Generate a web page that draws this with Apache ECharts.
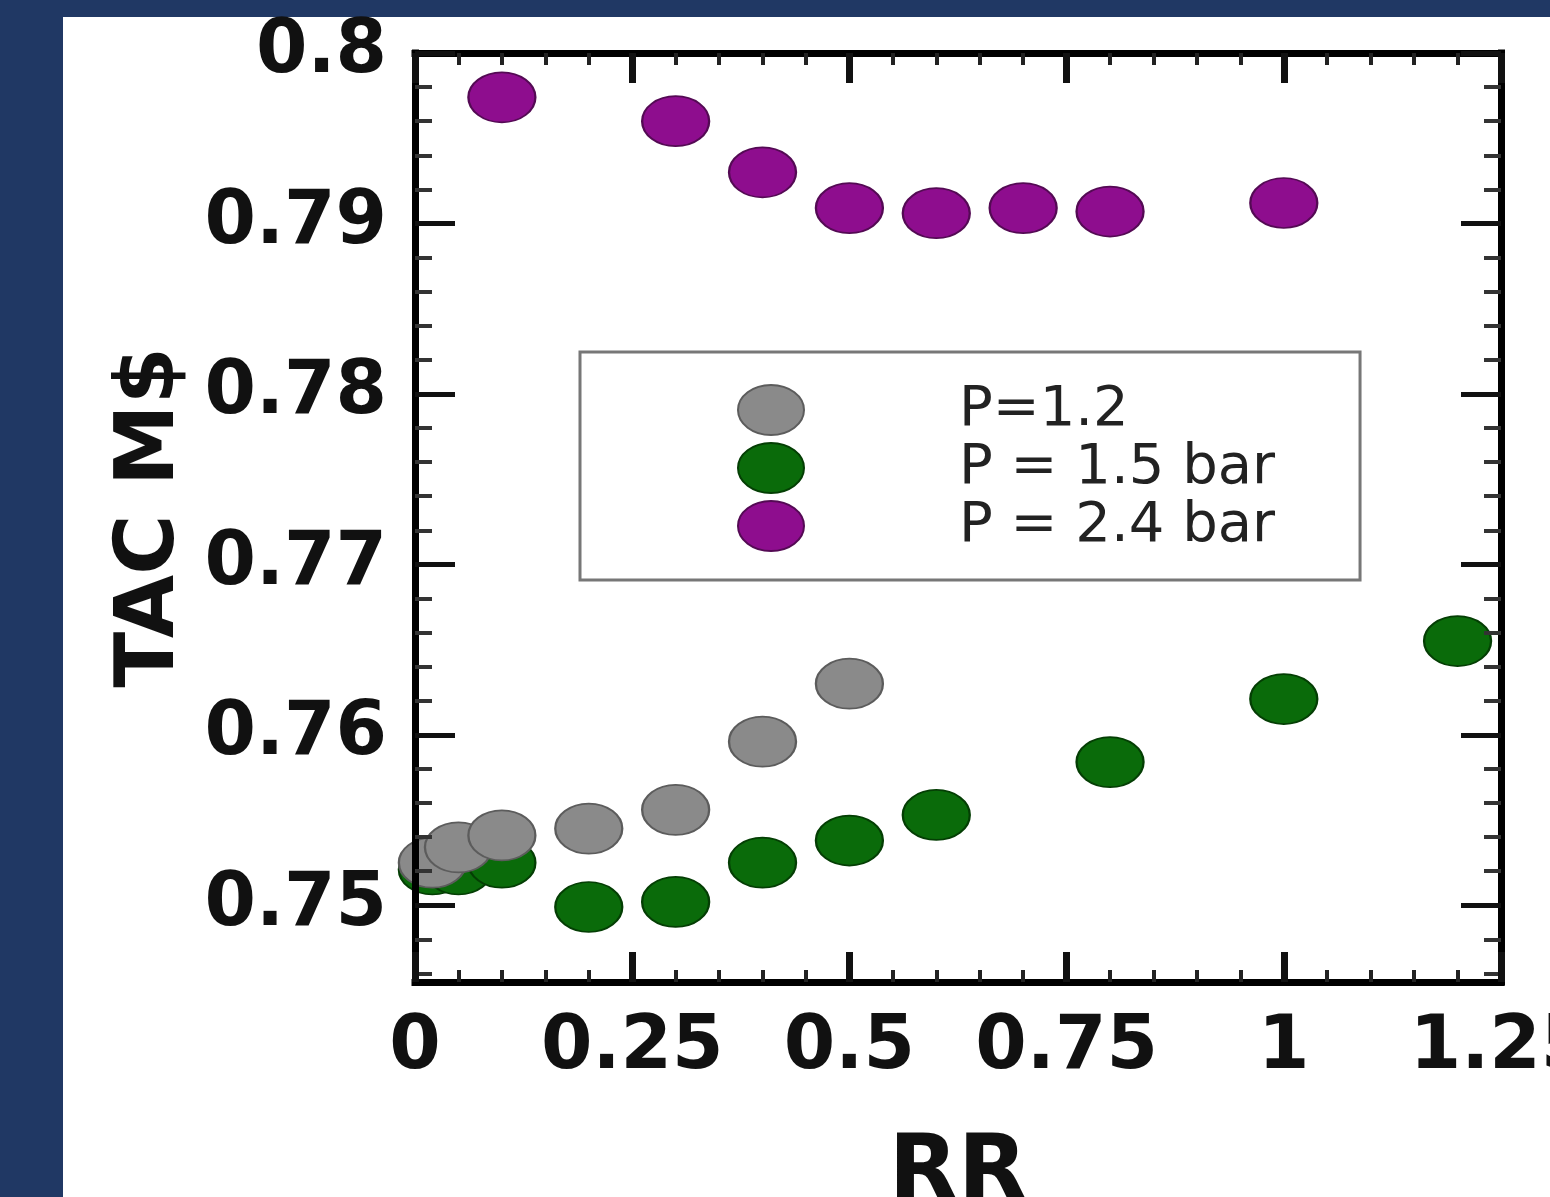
<!DOCTYPE html>
<html>
<head>
<meta charset="utf-8">
<title>TAC vs RR</title>
<script src="https://cdn.jsdelivr.net/npm/echarts@6/dist/echarts.min.js"></script>
<style>
  html, body { margin: 0; padding: 0; background: #203864; overflow: hidden; }
  #panel { position: absolute; left: 63px; top: 17px; width: 1487px; height: 1180px; background: #fff; }
  #chart { position: absolute; left: 0; top: 0; width: 1550px; height: 1197px; }
</style>
</head>
<body>
<div id="panel"></div>
<div id="chart"></div>
<script>
const seriesNames = ['P=1.2', 'P = 1.5 bar', 'P = 2.4 bar']

// P = 1.2
const rrGray = [0.02, 0.05, 0.1, 0.2, 0.3, 0.4, 0.5]
const tacGray = [0.7525, 0.7534, 0.7541, 0.7545, 0.7556, 0.7596, 0.7630]

// P = 1.5 bar
const rrGreen = [0.02, 0.05, 0.1, 0.2, 0.3, 0.4, 0.5, 0.6, 0.8, 1.0, 1.2]
const tacGreen = [0.7521, 0.7521, 0.7525, 0.7499, 0.7502, 0.7525, 0.7538, 0.7553, 0.7584, 0.7621, 0.7655]

// P = 2.4 bar
const rrPurple = [0.1, 0.3, 0.4, 0.5, 0.6, 0.7, 0.8, 1.0]
const tacPurple = [0.7974, 0.7960, 0.7930, 0.7909, 0.7906, 0.7909, 0.7907, 0.7912]

const yMajorTicks = [0.75, 0.76, 0.77, 0.78, 0.79, 0.8]
const yMinorTicks = [0.746, 0.748, 0.752, 0.754, 0.756, 0.758, 0.762, 0.764, 0.766, 0.768,
  0.772, 0.774, 0.776, 0.778, 0.782, 0.784, 0.786, 0.788, 0.792, 0.794, 0.796, 0.798]

const FONT = 'DejaVu Sans'
const ELLIPSE = 'path://M0,25A33,25,0,1,1,66,25A33,25,0,1,1,0,25Z'

const zip = (xs, ys) => xs.map((x, i) => [x, ys[i]])

function xAxisDef(position, showLabels) {
  return {
    type: 'value',
    position,
    min: 0,
    max: 1.25,
    interval: 0.25,
    z: 5,
    name: showLabels ? 'RR' : '',
    nameLocation: 'middle',
    nameGap: 149,
    nameTextStyle: { fontFamily: FONT, fontWeight: 'bold', fontSize: 90, color: '#111' },
    axisLine: { show: true, lineStyle: { color: '#000', width: 7, cap: 'square' } },
    axisTick: { show: true, inside: true, length: 30, lineStyle: { color: '#111', width: 7 } },
    minorTick: { show: true, splitNumber: 5, length: 12, lineStyle: { color: '#222', width: 4 } },
    axisLabel: {
      show: showLabels,
      margin: 30,
      fontFamily: FONT,
      fontWeight: 'bold',
      fontSize: 74,
      color: '#111',
      showMinLabel: true,
      showMaxLabel: true
    },
    splitLine: { show: false }
  }
}

function yAxisDef(position, major) {
  return {
    type: 'value',
    position,
    min: 0.7455,
    max: 0.8,
    z: 5,
    name: major && position === 'left' ? 'TAC M$' : '',
    nameLocation: 'middle',
    nameGap: 222,
    nameTextStyle: { fontFamily: FONT, fontWeight: 'bold', fontSize: 82, color: '#111' },
    axisLine: { show: major, lineStyle: { color: '#000', width: 7, cap: 'square' } },
    axisTick: {
      show: true,
      inside: true,
      customValues: major ? yMajorTicks : yMinorTicks,
      length: major ? 40 : 17,
      lineStyle: { color: major ? '#111' : '#333', width: major ? 5 : 4 }
    },
    axisLabel: {
      show: major && position === 'left',
      customValues: yMajorTicks,
      margin: 28,
      fontFamily: FONT,
      fontWeight: 'bold',
      fontSize: 74,
      color: '#111',
      formatter: v => String(Number(v.toFixed(2)))
    },
    splitLine: { show: false }
  }
}

const chart = echarts.init(document.getElementById('chart'))
chart.setOption({
  animation: false,
  backgroundColor: 'transparent',
  grid: { left: 415, right: 49, top: 53, bottom: 215, containLabel: false, outerBoundsMode: 'none' },
  legend: {
    data: seriesNames,
    orient: 'vertical',
    left: 580,
    top: 352,
    padding: [30, 85, 26, 157],
    itemWidth: 66,
    itemHeight: 50,
    itemGap: 2,
    icon: ELLIPSE,
    borderColor: '#777',
    borderWidth: 3,
    selectedMode: false,
    textStyle: { fontFamily: FONT, fontSize: 56, color: '#222', padding: [0, 0, 0, 150] }
  },
  xAxis: [xAxisDef('bottom', true), xAxisDef('top', false)],
  yAxis: [yAxisDef('left', true), yAxisDef('left', false), yAxisDef('right', true), yAxisDef('right', false)],
  series: [
    {
      name: seriesNames[0],
      type: 'scatter',
      z: 3,
      symbol: ELLIPSE,
      symbolSize: [67, 50],
      data: zip(rrGray, tacGray),
      itemStyle: { color: '#8a8a8a', borderColor: '#5c5c5c', borderWidth: 2, opacity: 1 }
    },
    {
      name: seriesNames[1],
      type: 'scatter',
      z: 2,
      symbol: ELLIPSE,
      symbolSize: [67, 50],
      data: zip(rrGreen, tacGreen),
      itemStyle: { color: '#0a6b0a', borderColor: '#043e04', borderWidth: 2, opacity: 1 }
    },
    {
      name: seriesNames[2],
      type: 'scatter',
      z: 2,
      symbol: ELLIPSE,
      symbolSize: [67, 50],
      data: zip(rrPurple, tacPurple),
      itemStyle: { color: '#8e0d8e', borderColor: '#540a54', borderWidth: 2, opacity: 1 }
    }
  ]
})
</script>
</body>
</html>
